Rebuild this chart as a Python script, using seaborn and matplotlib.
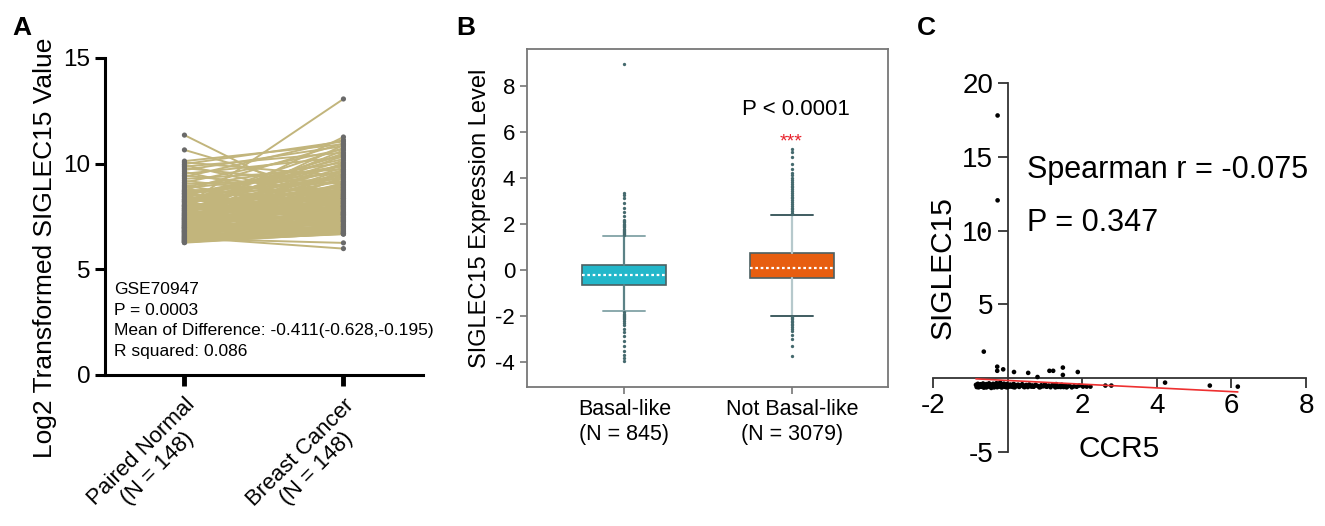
import numpy as np
import pandas as pd
import matplotlib
matplotlib.use("Agg")
import matplotlib.pyplot as plt
import seaborn as sns

# ---------------- Panel A data (paired values) ----------------
groups_a = ["Paired Normal\n(N = 148)", "Breast Cancer\n(N = 148)"]
normal_vals = [
    11.35, 10.65, 10.12, 10.06, 9.98, 9.93, 9.86, 9.79, 9.70, 9.61,
    9.52, 9.44, 9.37, 9.28, 9.19, 9.11, 9.04, 8.97, 8.91, 8.85,
    8.79, 8.74, 8.69, 8.64, 8.60, 8.55, 8.51, 8.47, 8.42, 8.38,
    8.34, 8.30, 8.26, 8.22, 8.18, 8.15, 8.11, 8.07, 8.04, 8.00,
    7.97, 7.94, 7.91, 7.88, 7.85, 7.82, 7.79, 7.76, 7.73, 7.70,
    7.67, 7.64, 7.62, 7.59, 7.56, 7.54, 7.51, 7.48, 7.46, 7.43,
    7.41, 7.38, 7.36, 7.33, 7.31, 7.29, 7.26, 7.24, 7.22, 7.20,
    7.17, 7.15, 7.13, 7.11, 7.09, 7.07, 7.05, 7.03, 7.01, 6.99,
    6.97, 6.95, 6.93, 6.91, 6.89, 6.87, 6.85, 6.83, 6.81, 6.79,
    6.78, 6.76, 6.74, 6.72, 6.70, 6.69, 6.67, 6.65, 6.63, 6.62,
    6.60, 6.58, 6.57, 6.55, 6.54, 6.52, 6.51, 6.49, 6.48, 6.46,
    6.45, 6.43, 6.42, 6.40, 6.39, 6.37, 6.36, 6.35, 6.33, 6.32,
    6.30, 6.29, 6.28, 6.27, 6.26, 8.58, 8.21, 7.99, 7.77, 7.52,
    7.35, 7.18, 7.00, 6.84, 8.43, 8.02, 7.66, 7.44, 7.27, 7.08,
    6.93, 8.70, 8.29, 7.86, 7.58, 7.39, 6.98, 6.77,
]
cancer_vals = [
    7.62, 8.45, 10.92, 9.41, 11.05, 8.21, 10.52, 9.02, 10.83, 7.94,
    10.31, 8.66, 11.12, 9.73, 8.38, 10.68, 9.25, 7.71, 10.05, 9.58,
    8.12, 10.96, 9.11, 8.83, 7.46, 9.87, 8.55, 10.22, 9.34, 7.98,
    8.91, 9.66, 8.02, 10.41, 8.74, 7.33, 9.48, 8.26, 9.95, 13.06,
    8.47, 7.58, 9.17, 8.36, 10.15, 7.89, 8.95, 8.61, 9.52, 7.24,
    8.18, 9.81, 8.07, 7.66, 11.26, 8.79, 7.41, 9.05, 8.33, 7.85,
    9.42, 8.52, 7.12, 8.69, 7.77, 10.88, 8.24, 7.52, 8.98, 7.96,
    7.03, 8.41, 9.29, 7.64, 8.14, 6.92, 8.58, 7.81, 9.63, 7.37,
    8.06, 6.85, 7.73, 8.87, 7.28, 8.29, 7.56, 6.78, 8.72, 7.45,
    7.92, 7.19, 8.49, 6.97, 7.69, 9.36, 7.35, 6.71, 8.01, 7.48,
    6.88, 7.83, 7.09, 8.34, 6.74, 7.61, 5.98, 7.26, 8.11, 6.81,
    6.25, 7.54, 6.69, 7.14, 8.62, 6.95, 7.42, 6.66, 7.01, 6.72,
    7.31, 6.68, 6.80, 7.05, 6.70, 9.92, 10.74, 8.88, 10.36, 8.15,
    9.71, 7.68, 8.21, 9.02, 7.28, 10.48, 8.43, 10.02, 7.88, 8.77,
    7.59, 9.16, 8.35, 9.47, 10.63, 7.99, 9.09, 8.53,
]
stats_lines_a = ["GSE70947", "P = 0.0003",
                 "Mean of Difference: -0.411(-0.628,-0.195)",
                 "R squared: 0.086"]

# ---------------- Panel B data (box summaries) ----------------
groups_b = ["Basal-like\n(N = 845)", "Not Basal-like\n(N = 3079)"]
box_q1 = [-0.65, -0.36]
box_median = [-0.25, 0.07]
box_q3 = [0.22, 0.72]
whisker_low = [-1.78, -2.00]
whisker_high = [1.48, 2.38]
outliers_basal = [1.52, 1.57, 1.61, 1.66, 1.70, 1.74, 1.79, 1.84, 1.90, 1.95,
                  2.00, 2.06, 2.12, 2.18, 2.32, 2.50, 2.70, 2.92, 3.12, 3.25,
                  3.33, 8.95,
                  -1.86, -1.91, -1.96, -2.01, -2.06, -2.11, -2.16, -2.22,
                  -2.31, -2.42, -2.56, -2.71, -2.90, -3.10, -3.30, -3.55,
                  -3.72, -3.86, -3.96]
outliers_not_basal = [2.42, 2.48, 2.55, 2.62, 2.70, 2.78, 2.86, 2.94, 3.02,
                      3.10, 3.18, 3.26, 3.34, 3.42, 3.50, 3.58, 3.66, 3.74,
                      3.82, 3.90, 3.97, 4.10, 4.22, 4.38, 4.60, 4.92, 5.12,
                      5.27,
                      -2.05, -2.10, -2.16, -2.22, -2.28, -2.35, -2.42, -2.50,
                      -2.58, -2.66, -2.82, -3.02, -3.30, -3.74]
p_text_b = "P < 0.0001"
sig_text_b = "***"

# ---------------- Panel C data (scatter) ----------------
ccr5 = [-0.27, -0.27, -0.64, -0.64,
        -0.28, -0.28, -0.12, 0.17, 0.55, 0.80, 1.12, 1.22, 1.48, 1.48, 1.88,
        2.02, 2.12, 2.22, 2.62, 2.78, 4.22, 5.42, 6.17,
        -0.85, -0.82, -0.80, -0.78, -0.76, -0.73, -0.71, -0.69, -0.66, -0.64,
        -0.62, -0.60, -0.57, -0.55, -0.53, -0.50, -0.48, -0.46, -0.44, -0.41,
        -0.39, -0.37, -0.35, -0.33, -0.30, -0.28, -0.26, -0.24, -0.22, -0.20,
        -0.18, -0.16, -0.14, -0.12, -0.10, -0.08, -0.06, -0.04, -0.02, 0.01,
        0.04, 0.07, 0.10, 0.13, 0.16, 0.19, 0.22, 0.25, 0.28, 0.31,
        0.35, 0.39, 0.42, 0.46, 0.50, 0.54, 0.58, 0.62, 0.66, 0.70,
        0.75, 0.80, 0.85, 0.90, 0.95, 1.00, 1.05, 1.10, 1.15, 1.20,
        1.25, 1.30, 1.35, 1.40, 1.45, 1.50, 1.55, 1.60, 1.66, 1.72,
        1.78, 1.85, 1.92,
        -0.83, -0.75, -0.67, -0.58, -0.51, -0.43, -0.36, -0.27, -0.19, -0.11,
        -0.03, 0.05, 0.15, 0.30, 0.45, 0.65, 0.88, 1.02, 1.28, 1.42, 1.58]
siglec15 = [17.80, 12.05, 10.00, 1.80,
            0.78, 0.50, 0.60, 0.42, 0.36, 0.08, 0.50, 0.50, 0.72, 0.22, 0.42,
            -0.57, -0.57, -0.57, -0.50, -0.50, -0.30, -0.50, -0.57,
            -0.45, -0.55, -0.38, -0.62, -0.48, -0.41, -0.58, -0.50, -0.36, -0.64,
            -0.46, -0.53, -0.40, -0.60, -0.47, -0.35, -0.56, -0.43, -0.66, -0.50,
            -0.38, -0.59, -0.45, -0.52, -0.34, -0.61, -0.47, -0.40, -0.55, -0.30,
            -0.49, -0.63, -0.42, -0.54, -0.37, -0.58, -0.46, -0.51, -0.40, -0.60,
            -0.48, -0.43, -0.57, -0.50, -0.39, -0.62, -0.47, -0.53, -0.44, -0.59,
            -0.49, -0.41, -0.56, -0.51, -0.46, -0.60, -0.43, -0.55, -0.49, -0.58,
            -0.45, -0.52, -0.62, -0.48, -0.55, -0.42, -0.58, -0.50, -0.61, -0.46,
            -0.54, -0.40, -0.59, -0.52, -0.45, -0.60, -0.48, -0.56, -0.51, -0.62,
            -0.55, -0.58, -0.50,
            -0.60, -0.55, -0.52, -0.62, -0.48, -0.57, -0.62, -0.52, -0.58, -0.48,
            -0.62, -0.55, -0.60, -0.52, -0.61, -0.57, -0.60, -0.55, -0.62, -0.60, -0.62]
fit_slope = -0.126
fit_intercept = -0.153
spearman_text = "Spearman r = -0.075"
p_text_c = "P = 0.347"

# ---------------- styling ----------------
sns.set_style("ticks")
plt.rcParams["font.family"] = ["Liberation Sans", "DejaVu Sans"]
plt.rcParams["axes.linewidth"] = 1.2
plt.rcParams["axes.unicode_minus"] = False
for key in ["text.color", "axes.labelcolor", "xtick.labelcolor", "ytick.labelcolor"]:
    plt.rcParams[key] = "black"

fig = plt.figure(figsize=(13.25, 5.26), dpi=100)

# ===== Panel A =====
axA = fig.add_axes([0.0792, 0.2871, 0.240, 0.6027])
n = len(normal_vals)
df_a = pd.DataFrame({
    "pair": list(range(n)) * 2,
    "group": [0] * n + [1] * n,
    "value": normal_vals + cancer_vals,
})
sns.lineplot(data=df_a, x="group", y="value", units="pair", estimator=None,
             color="#c2b57c", lw=1.4, ax=axA, legend=False)
sns.scatterplot(data=df_a, x="group", y="value", color="#6a6a6a", s=14,
                edgecolor="none", ax=axA, zorder=3, legend=False)
axA.set_xlim(-0.5, 1.5)
axA.set_ylim(0, 15)
axA.set_yticks([0, 5, 10, 15])
axA.set_xticks([0, 1])
axA.set_xticklabels(groups_a, rotation=45, ha="right", va="top",
                    rotation_mode="anchor", multialignment="center",
                    fontsize=16, linespacing=1.1)
for s in ["top", "right"]:
    axA.spines[s].set_visible(False)
for s in ["left", "bottom"]:
    axA.spines[s].set_linewidth(2.2)
    axA.spines[s].set_color("black")
axA.tick_params(axis="y", length=7, width=2.2, labelsize=17.5, color="black")
axA.tick_params(axis="x", length=8, width=3.5, labelsize=16, color="black",
                pad=6)
axA.set_xlabel("")
axA.set_ylabel("Log2 Transformed SIGLEC15 Value", fontsize=19)
axA.yaxis.set_label_coords(-0.151, 0.40)
axA.text(-0.445, 4.4, "\n".join(stats_lines_a), ha="left", va="top",
         fontsize=12.5, linespacing=1.47)

# ===== Panel B =====
axB = fig.add_axes([0.3977, 0.2643, 0.2725, 0.6426])
stats = []
for i, fl in enumerate([outliers_basal, outliers_not_basal]):
    stats.append(dict(med=box_median[i], q1=box_q1[i], q3=box_q3[i],
                      whislo=whisker_low[i], whishi=whisker_high[i],
                      fliers=fl))
bp = axB.bxp(stats, positions=[0, 1], widths=0.5, patch_artist=True,
             showfliers=True, capwidths=0.25)
box_colors = ["#23b7ca", "#e75e10"]
whisk_colors = ["#5b8286", "#b6c9cc"]
cap_colors = ["#8aa9ac", "#3f5c60"]
for i, patch in enumerate(bp["boxes"]):
    patch.set_facecolor(box_colors[i])
    patch.set_edgecolor("#4d6062")
    patch.set_linewidth(1.2)
for i in range(2):
    for w in bp["whiskers"][2 * i:2 * i + 2]:
        w.set_color(whisk_colors[i]); w.set_linewidth(1.6)
    for c in bp["caps"][2 * i:2 * i + 2]:
        c.set_color(cap_colors[i]); c.set_linewidth(1.4)
for m in bp["medians"]:
    m.set_color("white"); m.set_linestyle((0, (1.2, 1.2))); m.set_linewidth(1.6)
for f in bp["fliers"]:
    f.set_marker("o"); f.set_markersize(2.4)
    f.set_markerfacecolor("#456a6e"); f.set_markeredgecolor("none")
axB.set_xlim(-0.58, 1.57)
axB.set_ylim(-5.1, 9.6)
axB.set_yticks([-4, -2, 0, 2, 4, 6, 8])
axB.set_xticks([0, 1])
axB.set_xticklabels(groups_b, fontsize=15.5, linespacing=1.25)
for s in axB.spines.values():
    s.set_color("#777777"); s.set_linewidth(1.3)
axB.tick_params(axis="both", length=5, width=1.2, color="#777777")
axB.tick_params(axis="y", labelsize=16)
axB.set_ylabel("SIGLEC15 Expression Level", fontsize=17, labelpad=3)
axB.text(1.02, 6.96, p_text_b, ha="center", va="center", fontsize=16)
axB.text(0.99, 5.55, sig_text_b, ha="center", va="center", fontsize=14,
         color="#e8202a")

# ===== Panel C =====
axC = fig.add_axes([0.7042, 0.1407, 0.2815, 0.7015])
sns.scatterplot(x=ccr5, y=siglec15, color="black", s=11, edgecolor="none",
                ax=axC, legend=False, zorder=3)
line_x = np.array([min(ccr5), max(ccr5)])
sns.lineplot(x=line_x, y=fit_intercept + fit_slope * line_x, color="#ee3030",
             lw=1.2, ax=axC, legend=False, zorder=4)
axC.set_xlim(-2, 8)
axC.set_ylim(-5, 20)
axC.spines["left"].set_position(("data", 0))
axC.spines["bottom"].set_position(("data", 0))
axC.spines["top"].set_visible(False)
axC.spines["right"].set_visible(False)
for s in ["left", "bottom"]:
    axC.spines[s].set_color("#333333"); axC.spines[s].set_linewidth(1.3)
axC.set_xticks([-2, 2, 4, 6, 8])
axC.set_yticks([-5, 5, 10, 15, 20])
axC.tick_params(axis="both", length=7, width=1.3, color="#333333",
                labelsize=20)
axC.set_xlabel("CCR5", fontsize=21.5)
axC.set_ylabel("SIGLEC15", fontsize=21.5)
axC.xaxis.set_label_coords(0.5, 0.045, transform=axC.transAxes)
axC.text(0.53, 14.1, spearman_text, ha="left", va="center", fontsize=22)
axC.text(0.53, 10.5, p_text_c, ha="left", va="center", fontsize=22)

# panel letters
for lbl, xpos in [("A", 0.009), ("B", 0.344), ("C", 0.692)]:
    fig.text(xpos, 0.947, lbl, fontsize=19, fontweight="bold",
             ha="left", va="center")

fig.savefig("out.png", dpi=100)
